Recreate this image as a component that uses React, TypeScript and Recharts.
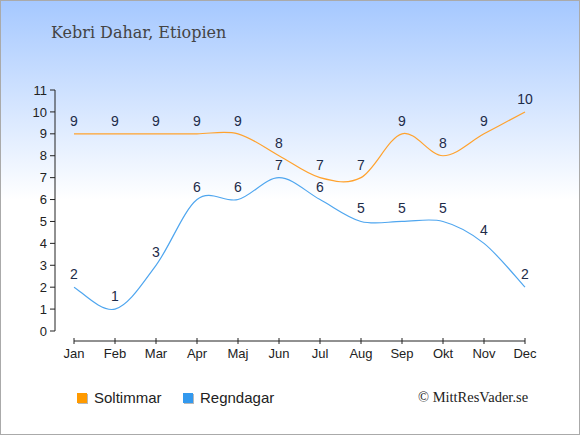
import { LabelList, Line, LineChart, ReferenceLine, XAxis, YAxis } from "recharts";

const months = ["Jan", "Feb", "Mar", "Apr", "Maj", "Jun", "Jul", "Aug", "Sep", "Okt", "Nov", "Dec"];
const soltimmar = [9, 9, 9, 9, 9, 8, 7, 7, 9, 8, 9, 10];
const regndagar = [2, 1, 3, 6, 6, 7, 6, 5, 5, 5, 4, 2];
const yTicks = [0, 1, 2, 3, 4, 5, 6, 7, 8, 9, 10, 11];

const THEME = {
  sun: "#ffa22e",
  sunKey: "#ff9a00",
  rain: "#4fa6ef",
  rainKey: "#3399ee",
  axis: "#222",
  label: "#1d2b48",
  font: '"Liberation Sans", Arial, sans-serif',
};

// sits 10px under the 0 line, in y units (241px for 11 units)
const AXIS_Y = -10 / (241 / 11);

const data = months.map((month, i) => ({
  month,
  soltimmar: soltimmar[i],
  regndagar: regndagar[i],
}));

// catmull-rom style curve, flat between equal neighbours
function cardinal(context: any) {
  let pts: number[][] = [];
  return {
    areaStart() {},
    areaEnd() {},
    lineStart() {
      pts = [];
    },
    lineEnd() {
      const n = pts.length;
      if (!n) return;
      context.moveTo(pts[0][0], pts[0][1]);
      for (let i = 0; i < n - 1; i++) {
        const p0 = pts[Math.max(i - 1, 0)];
        const p1 = pts[i];
        const p2 = pts[i + 1];
        const p3 = pts[Math.min(i + 2, n - 1)];
        context.bezierCurveTo(
          p1[0] + (p2[0] - p0[0]) / 6,
          p1[1] + (p2[1] - p0[1]) / 6,
          p2[0] - (p3[0] - p1[0]) / 6,
          p2[1] - (p3[1] - p1[1]) / 6,
          p2[0],
          p2[1]
        );
      }
    },
    point(x: number, y: number) {
      pts.push([+x, +y]);
    },
  };
}

function MonthTick({ x, y, payload }: any) {
  return (
    <g>
      <line x1={x} x2={x} y1={y + 7} y2={y + 13} stroke={THEME.axis} />
      <text x={x} y={y + 27} textAnchor="middle" fontSize={13} fill={THEME.axis} fontFamily={THEME.font}>
        {payload.value}
      </text>
    </g>
  );
}

function Key({ color, text, left }: { color: string; text: string; left: number }) {
  return (
    <div style={{ position: "absolute", left, top: 389, display: "flex", alignItems: "center" }}>
      <div style={{ width: 10, height: 10, background: color, boxShadow: "1px 1px 0 #b8b8b8" }} />
      <span style={{ marginLeft: 7, fontSize: 15, color: "#222", fontFamily: THEME.font }}>{text}</span>
    </div>
  );
}

export default function App() {
  return (
    <div
      style={{
        position: "fixed",
        left: 0,
        top: 0,
        width: 580,
        height: 435,
        background: "linear-gradient(to bottom, #a5c8ff 0px, #ffffff 200px, #ffffff 435px)",
      }}
    >
      <div
        style={{
          position: "absolute",
          left: 51,
          top: 23,
          fontFamily: '"DejaVu Serif", serif',
          fontSize: 16,
          color: "#444",
        }}
      >
        Kebri Dahar, Etiopien
      </div>
      <LineChart width={580} height={435} data={data} margin={{ top: 90, right: 36, left: 25, bottom: 74 }}>
        <XAxis
          dataKey="month"
          padding={{ left: 19, right: 19 }}
          axisLine={false}
          tickLine={false}
          tickSize={0}
          tickMargin={0}
          height={30}
          interval={0}
          tick={<MonthTick />}
        />
        <YAxis
          domain={[0, 11]}
          ticks={yTicks}
          interval={0}
          width={30}
          tickSize={5}
          tickMargin={3}
          stroke={THEME.axis}
          tick={{ fontSize: 13, fill: THEME.axis, fontFamily: THEME.font }}
        />
        <ReferenceLine
          segment={[
            { x: "Jan", y: AXIS_Y },
            { x: "Dec", y: AXIS_Y },
          ]}
          stroke={THEME.axis}
          ifOverflow="visible"
        />
        <Line
          dataKey="soltimmar"
          type={cardinal as any}
          stroke={THEME.sun}
          strokeWidth={1.2}
          dot={false}
          activeDot={false}
          isAnimationActive={false}
        >
          <LabelList dataKey="soltimmar" position="top" offset={8} fontSize={14} fill={THEME.label} fontFamily={THEME.font} />
        </Line>
        <Line
          dataKey="regndagar"
          type={cardinal as any}
          stroke={THEME.rain}
          strokeWidth={1.2}
          dot={false}
          activeDot={false}
          isAnimationActive={false}
        >
          <LabelList dataKey="regndagar" position="top" offset={8} fontSize={14} fill={THEME.label} fontFamily={THEME.font} />
        </Line>
      </LineChart>
      <Key color={THEME.sunKey} text="Soltimmar" left={77} />
      <Key color={THEME.rainKey} text="Regndagar" left={183} />
      <div
        style={{
          position: "absolute",
          left: 418,
          top: 389,
          fontFamily: '"Liberation Serif", "Times New Roman", serif',
          fontSize: 14.5,
          color: "#222",
        }}
      >
        © MittResVader.se
      </div>
      <div
        style={{
          position: "absolute",
          left: 0,
          top: 0,
          width: 580,
          height: 435,
          boxSizing: "border-box",
          border: "1px solid #aaa",
          pointerEvents: "none",
        }}
      />
    </div>
  );
}
